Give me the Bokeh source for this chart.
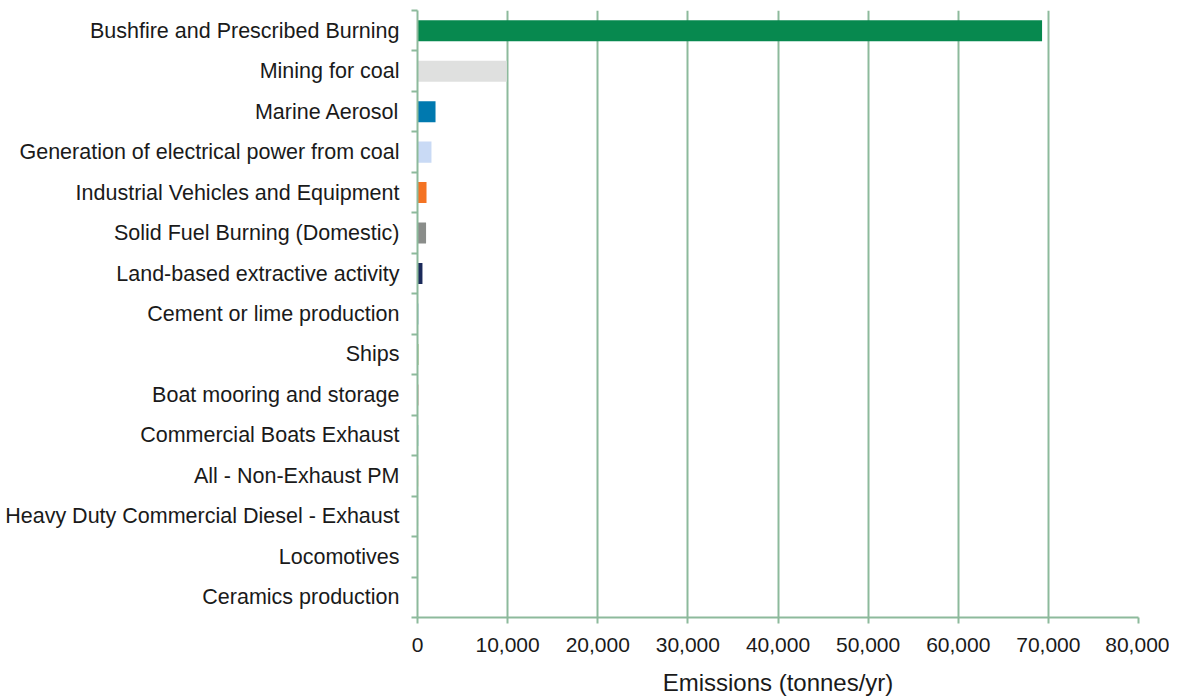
from bokeh.plotting import figure
from bokeh.models import Range1d, FixedTicker, NumeralTickFormatter, ColumnDataSource
from bokeh.embed import file_html
from bokeh.resources import INLINE

categories = [
    "Bushfire and Prescribed Burning",
    "Mining for coal",
    "Marine Aerosol",
    "Generation of electrical power from coal",
    "Industrial Vehicles and Equipment",
    "Solid Fuel Burning (Domestic)",
    "Land-based extractive activity",
    "Cement or lime production",
    "Ships",
    "Boat mooring and storage",
    "Commercial Boats Exhaust",
    "All - Non-Exhaust PM",
    "Heavy Duty Commercial Diesel - Exhaust",
    "Locomotives",
    "Ceramics production",
]
emissions = [69300, 9900, 2000, 1550, 1000, 950, 550, 120, 100, 90, 80, 70, 60, 50, 40]
colors = ["#07894F", "#DFE0DF", "#0079AF", "#C9DAF5", "#F47323", "#8A8D8A", "#1B2A5A",
          "#A7C7E7", "#7A9E3A", "#C0504D", "#4BACC6", "#F79646", "#8064A2", "#9BBB59", "#2C4D75"]
x_ticks = [0, 10000, 20000, 30000, 40000, 50000, 60000, 70000, 80000]

n = len(categories)
idx = list(range(n))
src = ColumnDataSource(dict(y=idx, right=emissions, color=colors, name=categories))

p = figure(frame_width=721, frame_height=607, output_backend="svg", toolbar_location=None,
           x_range=Range1d(0, 80000), y_range=Range1d(n - 0.5, -0.5),
           min_border_left=417, min_border_right=31, min_border_top=10, min_border_bottom=0)
p.outline_line_color = None
p.background_fill_color = "white"

grid_col = "#8DBA9C"

p.hbar(y="y", left=0, right="right", height=0.52, color="color", line_color=None, source=src)

# x axis
p.xaxis.ticker = FixedTicker(ticks=x_ticks)
p.xaxis.formatter = NumeralTickFormatter(format="0,0")
p.xaxis.axis_line_color = grid_col
p.xaxis.axis_line_width = 2
p.xaxis.major_tick_line_color = grid_col
p.xaxis.major_tick_line_width = 2
p.xaxis.major_tick_out = 6
p.xaxis.major_tick_in = 0
p.xaxis.minor_tick_line_color = None
p.xaxis.major_label_text_font = "Liberation Sans"
p.xaxis.major_label_text_font_size = "21px"
p.xaxis.major_label_text_color = "#1a1a1a"
p.xaxis.major_label_standoff = 14
p.xaxis.axis_label = "Emissions (tonnes/yr)"
p.xaxis.axis_label_text_font = "Liberation Sans"
p.xaxis.axis_label_text_font_size = "24px"
p.xaxis.axis_label_text_font_style = "normal"
p.xaxis.axis_label_text_color = "#1a1a1a"
p.xaxis.axis_label_standoff = 14

# y axis
boundaries = [i - 0.5 for i in range(n + 1)]
p.yaxis.ticker = FixedTicker(ticks=idx, minor_ticks=boundaries)
p.yaxis.major_label_overrides = {i: c for i, c in enumerate(categories)}
p.yaxis.axis_line_color = grid_col
p.yaxis.axis_line_width = 2
p.yaxis.major_tick_line_color = None
p.yaxis.minor_tick_line_color = grid_col
p.yaxis.minor_tick_line_width = 2
p.yaxis.minor_tick_out = 6
p.yaxis.minor_tick_in = 0
p.yaxis.major_label_text_font = "Liberation Sans"
p.yaxis.major_label_text_font_size = "21.5px"
p.yaxis.major_label_text_color = "#1a1a1a"
p.yaxis.major_label_standoff = 12

p.xgrid.ticker = FixedTicker(ticks=x_ticks)
p.xgrid.grid_line_color = grid_col
p.xgrid.grid_line_width = 2
p.ygrid.grid_line_color = None

open("out.html", "w").write(file_html(p, INLINE))
